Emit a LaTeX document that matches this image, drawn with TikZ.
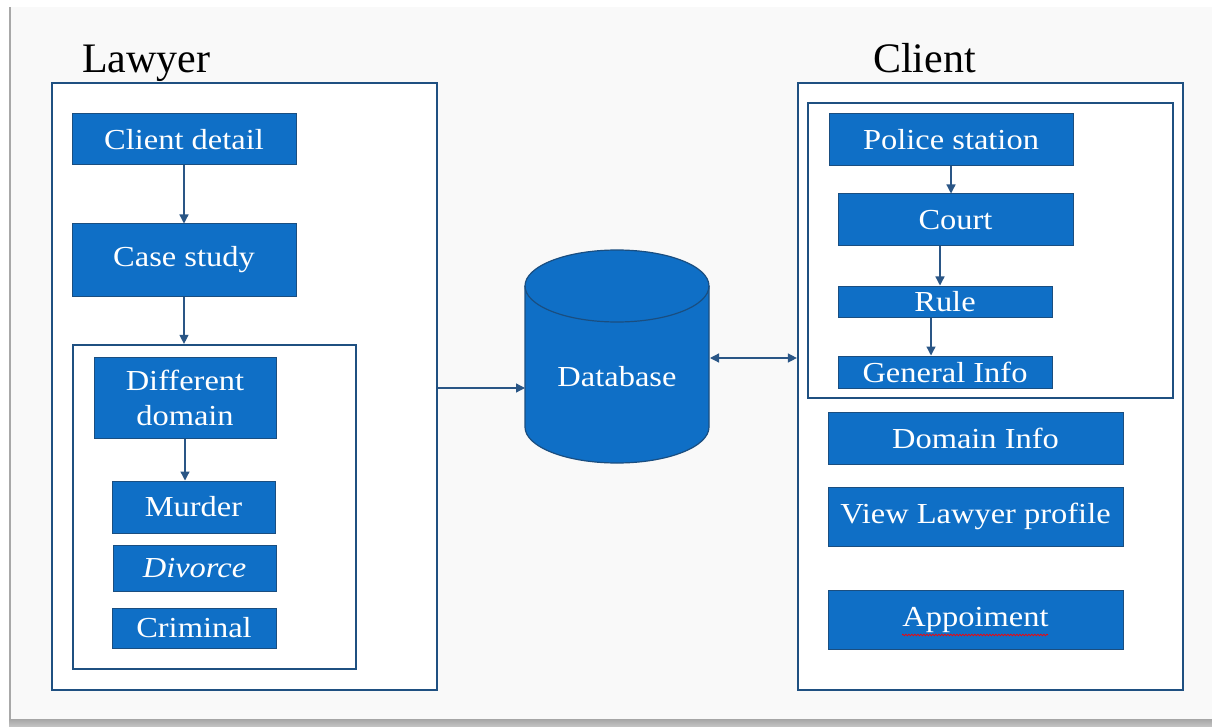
\documentclass[tikz,border=0pt]{standalone}
\usepackage{fontspec}
\setmainfont{Liberation Serif}
\newfontfamily\boxfont{Liberation Serif}[FakeStretch=1.12]
\usetikzlibrary{arrows.meta,positioning,calc,decorations.pathmorphing}

\definecolor{boxblue}{HTML}{0F6FC6}
\definecolor{edgeblue}{HTML}{1A4E80}
\definecolor{frameblue}{HTML}{1F5081}
\definecolor{linkblue}{HTML}{2A5686}
\definecolor{pagegrey}{HTML}{F9F9F9}
\definecolor{edgegrey}{HTML}{A8A8A8}

\begin{document}
\begin{tikzpicture}[
  x=1pt, y=-1pt,
  frame/.style={draw=frameblue, line width=2.2pt, fill=white, inner sep=0pt},
  blk/.style={draw=edgeblue, line width=1pt, fill=boxblue, text=white, inner sep=0pt,
    align=center, font=\boxfont\fontsize{29}{35}\selectfont},
  title/.style={anchor=base west, inner sep=0pt, font=\fontsize{42}{46}\selectfont},
  link/.style={draw=linkblue, line width=1.3pt},
  >={Triangle[length=9pt,width=9pt]}
]
  \useasboundingbox (0,0) rectangle (1212,727);

  % Page
  \fill[white] (0,0) rectangle (1212,727);
  \fill[pagegrey] (11,7) rectangle (1212,719);
  \fill[edgegrey] (9,7) rectangle (11,719);
  \shade[top color=gray!70, bottom color=gray!45] (9,719) rectangle (1212,727);

  % Lawyer side
  \node[title] (lawyertitle) at (82,73) {Lawyer};
  \node[frame, minimum width=385pt, minimum height=607pt] (lawyer) at (244.5,386.5) {};
  \node[blk, minimum width=224pt, minimum height=51pt] (cdetail) at (184,139.5) {Client detail};
  \node[blk, minimum width=224pt, minimum height=72pt] (cstudy) at (184,260) {Case study};
  \node[frame, minimum width=283pt, minimum height=324pt] (ldomain) at (214.5,507) {};
  \node[blk, minimum width=182pt, minimum height=81pt] (diffdom) at (185,397.5) {Different\\domain};
  \node[blk, minimum width=163pt, minimum height=52pt] (murder) at (193.5,507) {Murder};
  \node[blk, minimum width=163pt, minimum height=46pt] (divorce) at (194.5,568) {\itshape Divorce};
  \node[blk, minimum width=164pt, minimum height=40pt] (criminal) at (194,628) {Criminal};

  % Database
  \path[fill=boxblue, draw=edgeblue, line width=1.2pt]
    (525,286) -- (525,427) arc[start angle=180, end angle=0, x radius=92, y radius=36]
    -- (709,286) arc[start angle=0, end angle=-180, x radius=92, y radius=36] -- cycle;
  \draw[edgeblue, line width=1.2pt]
    (525,286) arc[start angle=180, end angle=0, x radius=92, y radius=36];
  \node[text=white, font=\boxfont\fontsize{29}{35}\selectfont] (dbase) at (617,377) {Database};
  \coordinate (dbw) at (525,388);
  \coordinate (dbe) at (710,358);

  % Client side
  \node[title] (clienttitle) at (873,73) {Client};
  \node[frame, minimum width=385pt, minimum height=607pt] (client) at (990.5,386.5) {};
  \node[frame, minimum width=365pt, minimum height=295pt] (cinfo) at (990.5,250.5) {};
  \node[blk, minimum width=244pt, minimum height=52pt] (police) at (951,140) {Police station};
  \node[blk, minimum width=235pt, minimum height=52pt] (court) at (955.5,220) {Court};
  \node[blk, minimum width=214pt, minimum height=31pt] (rule) at (945,301.5) {Rule};
  \node[blk, minimum width=214pt, minimum height=32pt] (geninfo) at (945,372) {General Info};
  \node[blk, minimum width=295pt, minimum height=52pt] (dominfo) at (975.5,438) {Domain Info};
  \node[blk, minimum width=295pt, minimum height=59pt] (viewprof) at (975.5,516.5) {View Lawyer profile};
  \node[blk, minimum width=295pt, minimum height=59pt] (appoint) at (975.5,620) {Appoiment};
  \draw[red, line width=0.7pt, decorate, decoration={snake, amplitude=0.8pt, segment length=3pt}]
    (902,635) -- (1048,635);

  % Flows
  \draw[link, ->] (cdetail) -- (cstudy);
  \draw[link, ->] (cstudy.south) -- (cstudy.south |- ldomain.north);
  \draw[link, ->] (diffdom.south) -- (diffdom.south |- murder.north);
  \draw[link, ->] (police.south) -- (police.south |- court.north);
  \draw[link, ->] ([xshift=-5pt]rule.north |- court.south) -- ([xshift=-5pt]rule.north);
  \draw[link, ->] ([xshift=-14pt]geninfo.north |- rule.south) -- ([xshift=-14pt]geninfo.north);
  \draw[link, ->] (lawyer.east |- dbw) -- (dbw);
  \draw[link, <->] (dbe) -- (client.west |- dbe);
\end{tikzpicture}
\end{document}
